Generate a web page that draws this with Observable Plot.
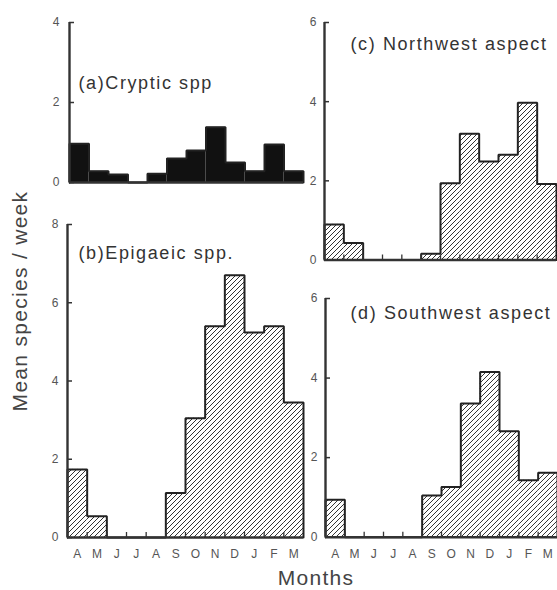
<!DOCTYPE html>
<html><head><meta charset="utf-8">
<script src="https://cdn.jsdelivr.net/npm/d3@7"></script>
<script src="https://cdn.jsdelivr.net/npm/@observablehq/plot@0.6"></script>
<style>
html,body{margin:0;padding:0;background:#fff;overflow:hidden;}
#wrap{position:relative;width:557px;height:590px;overflow:hidden;background:#fff;}
.panel{position:absolute;}
.panel svg{overflow:visible;background:transparent !important;}
g[aria-label="text"] text{letter-spacing:1.6px}
g[aria-label="x-axis tick label"] text{letter-spacing:0px}
.lab{position:absolute;font-family:"Liberation Sans",sans-serif;color:#444;white-space:nowrap;letter-spacing:1.3px;transform:translate(-50%,-50%);}
</style></head><body>
<svg width="0" height="0" style="position:absolute"><defs>
<pattern id="hatch" patternUnits="userSpaceOnUse" width="5" height="5">
<path d="M-1,1 l2,-2 M0,5 l5,-5 M4,6 l2,-2" stroke="#333" stroke-width="1"/>
</pattern></defs></svg>
<div id="wrap">
  <div class="lab" style="left:20px;top:301px;font-size:21px;transform:translate(-50%,-50%) rotate(-90deg);">Mean species / week</div>
  <div class="lab" style="left:316px;top:578px;font-size:21px;">Months</div>
</div>
<script>
const months = ["A","M","J","J","A","S","O","N","D","J","F","M"];
const cryptic   = [0.97,0.28,0.2,0,0.22,0.6,0.8,1.38,0.5,0.28,0.95,0.28];
const epigaeic  = [1.74,0.54,0,0,0,1.14,3.05,5.40,6.70,5.24,5.40,3.45];
const northwest = [0.9,0.43,0,0,0,0.16,1.94,3.19,2.49,2.66,3.97,1.92];
const southwest = [0.94,0,0,0,0,1.05,1.26,3.36,4.15,2.66,1.43,1.62];
const ticksA = [0,2,4];
const ticksB = [0,2,4,6,8];
const ticksCD = [0,2,4,6];
const titles = ["(a)Cryptic spp", "(b)Epigaeic spp.", "(c) Northwest aspect", "(d) Southwest aspect"];

const wrap = document.getElementById("wrap");

function panel(o) {
  const bars = o.values.map((v, i) => ({i, v}));
  const outline = [{x: 0, y: 0}, ...o.values.flatMap((v, i) => [{x: i, y: v}, {x: i + 1, y: v}]), {x: o.values.length, y: 0}];
  const marks = [
    Plot.rectY(bars, {x1: d => d.i, x2: d => d.i + 1, y: "v", fill: o.fill}),
    Plot.line(outline, {x: "x", y: "y", stroke: "#222", strokeWidth: 2, strokeLinejoin: "miter"}),
    Plot.ruleY([0], {stroke: "#333", strokeWidth: 2.4}),
    Plot.ruleX([0], {stroke: "#333", strokeWidth: 2.4}),
    Plot.axisY(o.ticks, {tickSize: 0, tickPadding: o.tickPad, fontSize: 12, fill: "#555", label: null}),
    Plot.axisY(o.ticks, {tickSize: 5, dx: 5, fill: "none", stroke: "#333", strokeWidth: 1.5, label: null}),
    Plot.text([o.title], {frameAnchor: "top-left", dx: o.tdx, dy: o.tdy, textAnchor: "start", lineAnchor: "middle", fontSize: 18, fill: "#333"})
  ];
  if (o.xticks) marks.push(Plot.axisX(d3.range(1, 12), {tickSize: 5, dy: -5, fill: "none", stroke: "#333", strokeWidth: 1.3, label: null}));
  if (o.labels) marks.push(Plot.axisX(d3.range(12).map(i => i + 0.5), {tickSize: 0, tickPadding: 12, tickFormat: d => months[Math.floor(d)], fontSize: 12, fill: "#555", label: null}));
  const chart = Plot.plot({
    width: o.mL + o.fw + o.mR,
    height: o.mT + o.fh + o.mB,
    marginLeft: o.mL, marginRight: o.mR, marginTop: o.mT, marginBottom: o.mB,
    x: {domain: [0, 12], label: null, axis: (o.xticks || o.labels) ? undefined : null},
    y: {domain: [0, o.yMax], label: null},
    style: {fontFamily: "Liberation Sans, sans-serif", background: "transparent", overflow: "visible"},
    marks
  });
  const div = document.createElement("div");
  div.className = "panel";
  div.style.left = (o.fx - o.mL) + "px";
  div.style.top = (o.fy - o.mT) + "px";
  div.appendChild(chart);
  wrap.appendChild(div);
}

panel({values: cryptic, fill: "#111", yMax: 4, ticks: ticksA, title: titles[0], fx: 69, fy: 22, fw: 234, fh: 160, mL: 40, mR: 6, mT: 10, mB: 6, tickPad: 10, tdx: 9, tdy: 61, xticks: false, labels: false});
panel({values: epigaeic, fill: "url(#hatch)", yMax: 8, ticks: ticksB, title: titles[1], fx: 67, fy: 224, fw: 236, fh: 313, mL: 40, mR: 6, mT: 10, mB: 30, tickPad: 9, tdx: 11, tdy: 29, xticks: true, labels: true});
panel({values: northwest, fill: "url(#hatch)", yMax: 6, ticks: ticksCD, title: titles[2], fx: 324, fy: 22, fw: 232, fh: 237.5, mL: 40, mR: 1, mT: 10, mB: 6, tickPad: 8, tdx: 26, tdy: 22, xticks: true, labels: false});
panel({values: southwest, fill: "url(#hatch)", yMax: 6, ticks: ticksCD, title: titles[3], fx: 325, fy: 298, fw: 232, fh: 238.7, mL: 40, mR: 0, mT: 10, mB: 30, tickPad: 8, tdx: 25, tdy: 15, xticks: true, labels: true});
</script>
</body></html>
